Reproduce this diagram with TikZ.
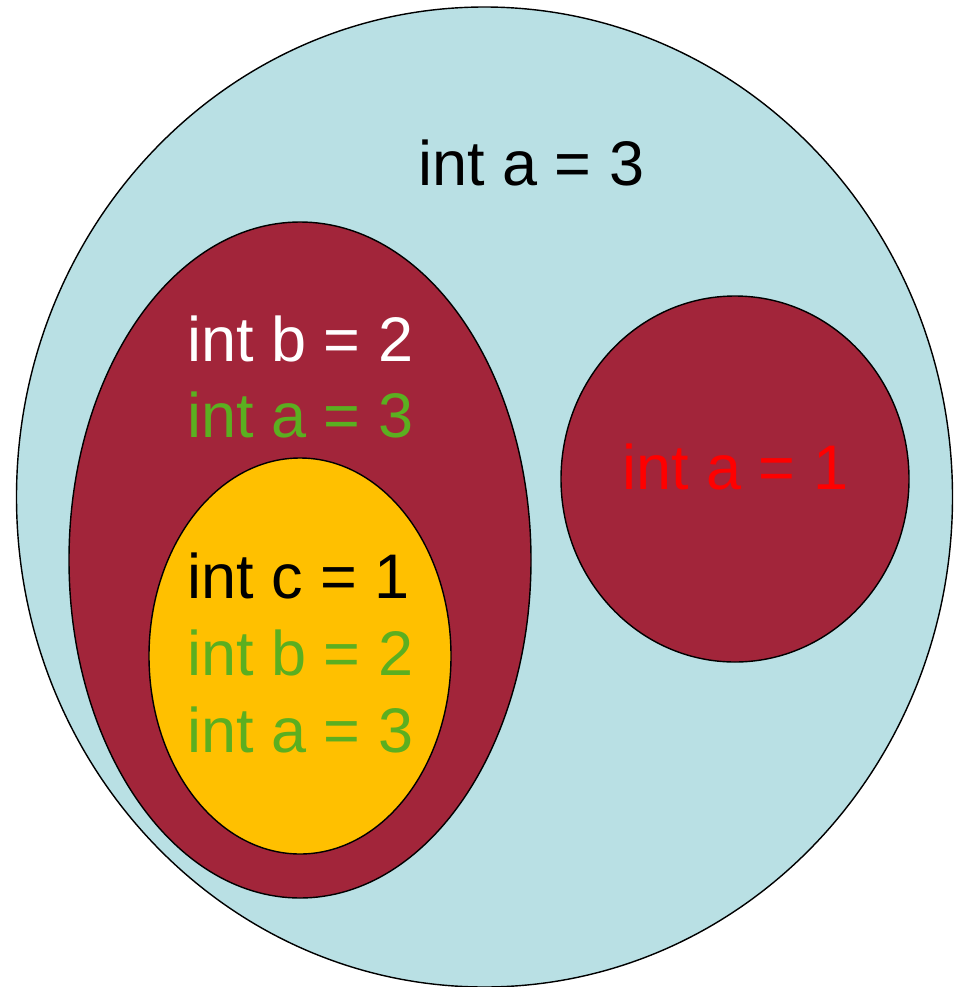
\documentclass[tikz,border=0pt]{standalone}
\usepackage{fontspec}
\setmainfont{Liberation Sans}
\usepackage{xcolor}
\usepackage{tikz}
\definecolor{scopesky}{HTML}{B9E0E4}
\definecolor{scopewine}{HTML}{A2253A}
\definecolor{scopegold}{HTML}{FFC000}
\definecolor{scopegreen}{HTML}{5BAF20}
\definecolor{scopered}{HTML}{FF0000}

\begin{document}
\begin{tikzpicture}[x=0.025cm, y=-0.025cm,
  region/.style={draw=black,line width=1pt},
  var/.style={anchor=base west,inner sep=0pt,font=\fontsize{44.8}{54}\selectfont}]
\useasboundingbox (0,0) rectangle (961,987);
% nested scopes
\filldraw[region,fill=scopesky] (484.5,497) ellipse [x radius=468, y radius=490];
\filldraw[region,fill=scopewine] (300,560) ellipse [x radius=231, y radius=338];
\filldraw[region,fill=scopegold] (300,656) ellipse [x radius=151, y radius=198];
\filldraw[region,fill=scopewine] (735,479) ellipse [x radius=174, y radius=183];
% variables
\node[var] (outerA) at (418,185) {int a = 3};
\node[var,white] (midB) at (187,361) {int b = 2};
\node[var,scopegreen] (midA) at (187,437) {int a = 3};
\node[var] (innC) at (187,598) {int c = 1};
\node[var,scopegreen] (innB) at (187,675) {int b = 2};
\node[var,scopegreen] (innA) at (187,752) {int a = 3};
\node[var,scopered] (sideA) at (622,489) {int a = 1};
\end{tikzpicture}
\end{document}
